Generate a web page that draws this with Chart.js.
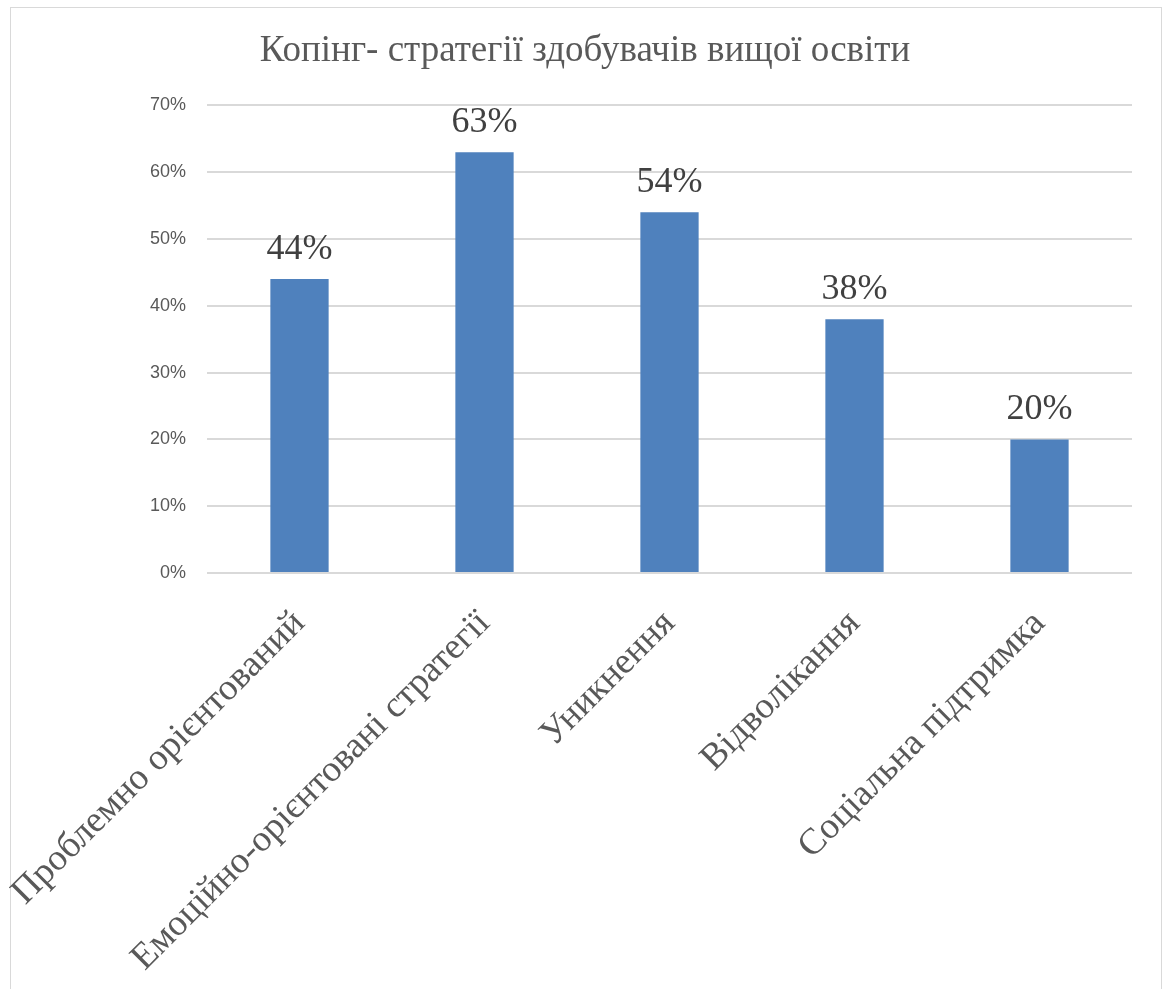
<!DOCTYPE html>
<html>
<head>
<meta charset="utf-8">
<script src="https://cdn.jsdelivr.net/npm/chart.js@4"></script>
<style>
  html, body { margin: 0; padding: 0; background: #fff; overflow: hidden; }
  #frame { position: absolute; left: 10px; top: 7px; width: 1150px; height: 1000px; border: 1px solid #d9d9d9; }
  #wrap { position: absolute; left: 0; top: 0; width: 1168px; height: 989px; }
</style>
</head>
<body>
<div id="frame"></div>
<div id="wrap"><canvas id="myChart"></canvas></div>
<script>
const categories = ['Проблемно орієнтований', 'Емоційно-орієнтовані стратегії', 'Уникнення', 'Відволікання', 'Соціальна підтримка'];
const values = [44, 63, 54, 38, 20];
const yTicks = [0, 10, 20, 30, 40, 50, 60, 70];

const textColor = '#595959';
const serif = '"Liberation Serif", "Times New Roman", serif';

// draws the value above each bar
const valueLabels = {
    id: 'valueLabels',
    afterDatasetsDraw(chart) {
        const ctx = chart.ctx;
        const meta = chart.getDatasetMeta(0);
        ctx.save();
        ctx.font = '36px ' + serif;
        ctx.fillStyle = '#404040';
        ctx.textAlign = 'center';
        ctx.textBaseline = 'alphabetic';
        meta.data.forEach((bar, i) => {
            ctx.fillText(values[i] + '%', bar.x, bar.y - 20);
        });
        ctx.restore();
    }
};

// center the title over the whole frame, not just the plot
const titleSpan = {
    id: 'titleSpan',
    afterLayout(chart) {
        if (chart.titleBlock) {
            chart.titleBlock.left = 10;
            chart.titleBlock.right = 1160;
            chart.titleBlock.width = 1150;
        }
    }
};

const ctx = document.getElementById('myChart').getContext('2d');
new Chart(ctx, {
    type: 'bar',
    data: {
        labels: categories,
        datasets: [{
            data: values,
            backgroundColor: '#4f81bd',
            borderWidth: 0,
            barPercentage: 0.315,
            categoryPercentage: 1
        }]
    },
    options: {
        responsive: true,
        maintainAspectRatio: false,
        animation: false,
        layout: { padding: { left: 10, right: 36, top: 0, bottom: 0 } },
        plugins: {
            legend: { display: false },
            tooltip: { enabled: false },
            title: {
                display: true,
                text: 'Копінг- стратегії здобувачів вищої освіти',
                color: textColor,
                font: { family: serif, size: 37, weight: 'normal' },
                padding: { top: 29, bottom: 32 }
            }
        },
        scales: {
            x: {
                grid: { display: false },
                border: { display: false },
                ticks: {
                    color: textColor,
                    font: { family: serif, size: 37 },
                    minRotation: 45,
                    maxRotation: 45,
                    autoSkip: false,
                    padding: 21
                },
                afterFit(scale) {
                    scale.height = 416;
                    // long rotated labels may run past the left edge, as in the original
                    scale.paddingLeft = 0;
                    scale.paddingRight = 0;
                }
            },
            y: {
                min: 0,
                max: 70,
                afterBuildTicks(scale) { scale.ticks = yTicks.map(v => ({ value: v })); },
                grid: { color: '#d9d9d9', lineWidth: 2, drawTicks: false },
                border: { display: false },
                ticks: {
                    color: textColor,
                    font: { family: '"Liberation Sans", Arial, sans-serif', size: 18 },
                    padding: 21,
                    callback: v => v + '%'
                },
                afterFit(scale) { scale.width = 197; }
            }
        }
    },
    plugins: [valueLabels, titleSpan]
});
</script>
</body>
</html>
